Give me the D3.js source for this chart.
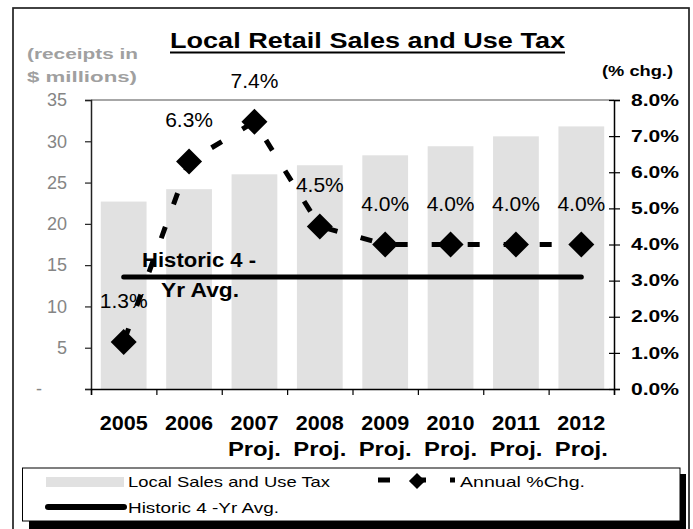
<!DOCTYPE html>
<html>
<head>
<meta charset="utf-8">
<script src="https://cdn.jsdelivr.net/npm/d3@7"></script>
<style>
  html, body { margin: 0; padding: 0; background: #fff; }
  svg { display: block; font-family: "Liberation Sans", Arial, sans-serif; }
</style>
</head>
<body>
<svg id="chart" width="693" height="529"></svg>
<script>
// Local retail sales and use tax receipts ($ millions) and annual % change
const years = ["2005", "2006", "2007", "2008", "2009", "2010", "2011", "2012"];
const yearNotes = ["", "", "Proj.", "Proj.", "Proj.", "Proj.", "Proj.", "Proj."];
const salesTax = [22.7, 24.2, 26.0, 27.1, 28.3, 29.4, 30.6, 31.8];
const annualPct = [1.3, 6.3, 7.4, 4.5, 4.0, 4.0, 4.0, 4.0];
const historicAvg = 3.1;
const leftTicks = [0, 5, 10, 15, 20, 25, 30, 35];
const rightTicks = [0, 1, 2, 3, 4, 5, 6, 7, 8];

const svg = d3.select("#chart");
const plot = { left: 91, right: 614, top: 100, bottom: 389 };

const x = d3.scaleBand().domain(years)
  .range([plot.left, plot.right]).paddingInner(0.3).paddingOuter(0.15);
const xEdge = d3.scaleLinear().domain([0, years.length]).range([plot.left, plot.right]);
const yL = d3.scaleLinear().domain([0, 35]).range([plot.bottom, plot.top]);
const yR = d3.scaleLinear().domain([0, 8]).range([plot.bottom, plot.top]);
const cx = d => x(d) + x.bandwidth() / 2;

function fit(sel, w) {
  sel.attr("textLength", w).attr("lengthAdjust", "spacingAndGlyphs");
}

// outer frame
svg.append("rect").attr("x", 13).attr("y", 8).attr("width", 676).attr("height", 540)
  .attr("fill", "none").attr("stroke", "#222").attr("stroke-width", 1.7);

// title
svg.append("text").attr("x", 367.5).attr("y", 48).attr("text-anchor", "middle")
  .attr("font-size", 22).attr("font-weight", "bold").attr("fill", "#000")
  .text("Local Retail Sales and Use Tax").call(fit, 395);
svg.append("line").attr("x1", 170).attr("x2", 565).attr("y1", 52.5).attr("y2", 52.5)
  .attr("stroke", "#000").attr("stroke-width", 2);

// axis titles
svg.append("text").attr("x", 27).attr("y", 59).attr("font-size", 15).attr("font-weight", "bold")
  .attr("fill", "#a0a0a0").text("(receipts in").call(fit, 111);
svg.append("text").attr("x", 27).attr("y", 82).attr("font-size", 15).attr("font-weight", "bold")
  .attr("fill", "#a0a0a0").text("$ millions)").call(fit, 110);
svg.append("text").attr("x", 602).attr("y", 76).attr("font-size", 15).attr("font-weight", "bold")
  .attr("fill", "#000").text("(% chg.)").call(fit, 71);

// bars
svg.append("g").selectAll("rect").data(salesTax).join("rect")
  .attr("x", (d, i) => x(years[i]))
  .attr("y", d => yL(d))
  .attr("width", x.bandwidth())
  .attr("height", d => yL(0) - yL(d))
  .attr("fill", "#e1e1e1");

// plot top border
svg.append("line").attr("x1", plot.left).attr("x2", plot.right)
  .attr("y1", plot.top).attr("y2", plot.top).attr("stroke", "#8a8a8a").attr("stroke-width", 1.5);

// left axis
const gL = svg.append("g").attr("transform", `translate(${plot.left},0)`)
  .call(d3.axisLeft(yL).tickValues(leftTicks).tickSize(6).tickPadding(18)
    .tickFormat(d => d === 0 ? "-" : d3.format("d")(d)));
gL.select(".domain").attr("stroke", "#222").attr("stroke-width", 1.5);
gL.selectAll(".tick line").attr("stroke", "#222").attr("stroke-width", 1.2);
gL.selectAll(".tick text").attr("font-size", 18).attr("fill", "#858585")
  .attr("font-family", "Liberation Sans, Arial, sans-serif")
  .attr("dx", d => d === 0 ? -25 : 0);

// right axis
const gR = svg.append("g").attr("transform", `translate(${plot.right},0)`)
  .call(d3.axisRight(yR).tickValues(rightTicks).tickSize(6).tickPadding(11)
    .tickFormat(d => d3.format(".1f")(d) + "%"));
gR.select(".domain").attr("stroke", "#000").attr("stroke-width", 1.5);
gR.selectAll(".tick line").attr("x1", -5).attr("x2", 6).attr("stroke", "#000").attr("stroke-width", 1.2);
gR.selectAll(".tick text").attr("font-size", 16).attr("font-weight", "bold").attr("fill", "#000")
  .attr("font-family", "Liberation Sans, Arial, sans-serif").call(fit, 48);

// bottom axis: boundary ticks
const gB = svg.append("g").attr("transform", `translate(0,${plot.bottom})`)
  .call(d3.axisBottom(xEdge).ticks(years.length).tickSize(6).tickFormat(""));
gB.select(".domain").attr("stroke", "#000").attr("stroke-width", 1.5);
gB.selectAll(".tick line").attr("stroke", "#000").attr("stroke-width", 1.2);

// category labels
const gC = svg.append("g").attr("transform", `translate(0,${plot.bottom})`)
  .call(d3.axisBottom(x).tickSize(0).tickPadding(0).tickFormat(""));
gC.select(".domain").remove();
gC.selectAll(".tick").each(function (d, i) {
  const t = d3.select(this);
  t.append("text").attr("y", 41).attr("text-anchor", "middle").attr("font-size", 20)
    .attr("font-weight", "bold").attr("fill", "#000").text(d).call(fit, 48);
  if (yearNotes[i]) {
    t.append("text").attr("y", 67).attr("text-anchor", "middle").attr("font-size", 20)
      .attr("font-weight", "bold").attr("fill", "#000").text(yearNotes[i]).call(fit, 53);
  }
});

// historic average line
svg.append("line")
  .attr("x1", cx(years[0])).attr("x2", cx(years[years.length - 1]))
  .attr("y1", yR(historicAvg)).attr("y2", yR(historicAvg))
  .attr("stroke", "#000").attr("stroke-width", 5).attr("stroke-linecap", "round");

// annual % change dashed line
const line = d3.line().x((d, i) => cx(years[i])).y(d => yR(d));
svg.append("path").datum(annualPct).attr("d", line)
  .attr("fill", "none").attr("stroke", "#000").attr("stroke-width", 5)
  .attr("stroke-dasharray", "12,24").attr("stroke-dashoffset", -2.4);

// diamond markers
const diamond = d3.symbol().type(d3.symbolSquare).size(338);
svg.append("g").selectAll("path").data(annualPct).join("path")
  .attr("d", diamond)
  .attr("transform", (d, i) => `translate(${cx(years[i])},${yR(d)}) rotate(45)`)
  .attr("fill", "#000");

// value labels
svg.append("g").selectAll("text").data(annualPct).join("text")
  .attr("x", (d, i) => cx(years[i]))
  .attr("y", d => yR(d) - 34)
  .attr("text-anchor", "middle").attr("font-size", 21).attr("fill", "#000")
  .text(d => d3.format(".1f")(d) + "%");

// historic average label
const avgX = cx(years[1]) + 10;
svg.append("text").attr("x", avgX).attr("y", yR(historicAvg) - 10)
  .attr("text-anchor", "middle").attr("font-size", 20).attr("font-weight", "bold")
  .attr("fill", "#000").text("Historic 4 -").call(fit, 114);
svg.append("text").attr("x", avgX + 1).attr("y", yR(historicAvg) + 20)
  .attr("text-anchor", "middle").attr("font-size", 20).attr("font-weight", "bold")
  .attr("fill", "#000").text("Yr Avg.").call(fit, 78);

// legend
const lg = svg.append("g");
lg.append("rect").attr("x", 29).attr("y", 474).attr("width", 657).attr("height", 60).attr("fill", "#000");
lg.append("rect").attr("x", 22.5).attr("y", 468).attr("width", 657.5).attr("height", 53)
  .attr("fill", "#fff").attr("stroke", "#000").attr("stroke-width", 1);
lg.append("rect").attr("x", 46).attr("y", 477).attr("width", 78).attr("height", 10).attr("fill", "#e1e1e1");
lg.append("text").attr("x", 128).attr("y", 487).attr("font-size", 15).attr("fill", "#000")
  .text("Local Sales and Use Tax").call(fit, 202);
lg.append("line").attr("x1", 378).attr("x2", 455).attr("y1", 480).attr("y2", 480)
  .attr("stroke", "#000").attr("stroke-width", 5).attr("stroke-dasharray", "12,24");
lg.append("path").attr("d", d3.symbol().type(d3.symbolSquare).size(130))
  .attr("transform", "translate(417,481) rotate(45)").attr("fill", "#000");
lg.append("text").attr("x", 460).attr("y", 487).attr("font-size", 15).attr("fill", "#000")
  .text("Annual %Chg.").call(fit, 125);
lg.append("line").attr("x1", 48).attr("x2", 124).attr("y1", 507).attr("y2", 507)
  .attr("stroke", "#000").attr("stroke-width", 6).attr("stroke-linecap", "round");
lg.append("text").attr("x", 128).attr("y", 513).attr("font-size", 15).attr("fill", "#000")
  .text("Historic 4 -Yr Avg.").call(fit, 151);
</script>
</body>
</html>
